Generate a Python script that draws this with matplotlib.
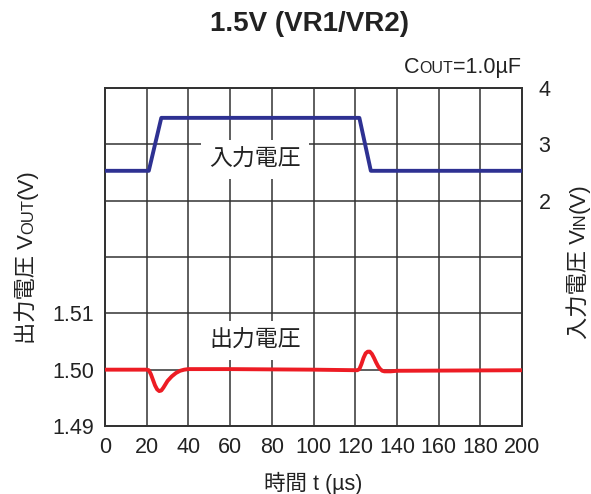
import matplotlib
matplotlib.use("Agg")
import matplotlib.pyplot as plt
from matplotlib.transforms import IdentityTransform

FAM = ['Liberation Sans', 'Noto Sans CJK JP', 'DejaVu Sans']
plt.rcParams['font.family'] = FAM

# ---------------- data ----------------
t_in = [0, 21, 27, 122, 127.5, 200]
v_in = [2.53, 2.53, 3.47, 3.47, 2.53, 2.53]

t_out = [0, 20, 21, 22, 23, 24, 25, 26, 27, 28, 29, 30, 32, 34, 36, 38, 40, 45, 60, 100,
         121, 122, 123, 124, 125, 126, 127, 128, 129, 130, 131, 132, 133, 134, 135, 137, 140, 200]
v_out = [1.5000, 1.5000, 1.4999, 1.4992, 1.4982, 1.4972, 1.4965, 1.4962, 1.4963, 1.4968,
         1.4974, 1.4980, 1.4988, 1.4994, 1.4998, 1.5000, 1.5001, 1.5001, 1.5001, 1.5000,
         1.4999, 1.5001, 1.5010, 1.5021, 1.5029, 1.5032, 1.5032, 1.5028, 1.5021, 1.5013,
         1.5006, 1.5001, 1.4998, 1.4997, 1.4997, 1.4997, 1.4998, 1.4999]

x_ticks = list(range(0, 201, 20))
left_ticklabels = ["1.49", "1.50", "1.51"]
right_ticklabels = ["2", "3", "4"]

title = "1.5V (VR1/VR2)"
in_label = "入力電圧"
out_label = "出力電圧"

W, H = 591, 494
fig = plt.figure(figsize=(W / 100, H / 100), dpi=100)
ax = fig.add_axes([105 / W, 1 - 426 / H, (522 - 105) / W, (426 - 88) / H])
ax2 = ax.twinx()

GRID = '#333333'
TXT = '#222222'
ax.set_xlim(0, 200)
ax.set_ylim(1.49, 1.55)
ax2.set_ylim(-2, 4)
ax.set_xticks(x_ticks)
ax.set_yticks([1.49 + 0.01 * i for i in range(7)])
ax.grid(True, color=GRID, lw=1.1)
ax.set_axisbelow(True)
ax.tick_params(length=0, labelsize=15.5, pad=8, colors=TXT)
ax.set_yticklabels(left_ticklabels + [""] * 4)
ax.set_xticklabels([str(v) for v in x_ticks])
ax2.set_yticks([-2 + i for i in range(7)])
ax2.set_yticklabels([""] * 4 + right_ticklabels)
ax2.tick_params(length=0, labelsize=15.5, pad=12, colors=TXT)
for a in (ax, ax2):
    for s in a.spines.values():
        s.set_color('#333333')
        s.set_linewidth(1.3)

ax.set_zorder(ax2.get_zorder() + 1)
ax.patch.set_visible(False)

# labels with white boxes (cover grid)
ax.text(72, 2.73, in_label, fontsize=16.5, ha='center', va='center', zorder=3,
        transform=ax2.transData, color=TXT,
        bbox=dict(facecolor='white', edgecolor='none', pad=6))
ax.text(72, 1.5052, out_label, fontsize=16.5, ha='center', va='center', zorder=3,
        color=TXT, bbox=dict(facecolor='white', edgecolor='none', pad=6))

ax.plot(t_in, v_in, color='#2e3192', lw=2.8, zorder=5, solid_joinstyle='round',
        transform=ax2.transData)
ax.plot(t_out, v_out, color='#ed1c24', lw=2.8, zorder=5, solid_joinstyle='round')
ax.set_xlim(0, 200)
ax.set_ylim(1.49, 1.55)

fig.text(310 / W, 1 - 24 / H, title, fontsize=20, fontweight='bold', ha='center',
         va='center', color=TXT)

renderer = fig.canvas.get_renderer()


def rich(x, y, pieces, rotation=0, align='center'):
    ws = []
    for s, size in pieces:
        tt = fig.text(0, 0, s, fontsize=size, transform=IdentityTransform())
        ws.append(tt.get_window_extent(renderer).width)
        tt.remove()
    total = sum(ws)
    off = {'center': -total / 2, 'right': -total, 'left': 0}[align]
    dx, dy = (1, 0) if rotation == 0 else (0, 1)
    cur = off
    for (s, size), w in zip(pieces, ws):
        fig.text(x + dx * cur, (H - y) + dy * cur, s, fontsize=size, rotation=rotation,
                 rotation_mode='anchor', ha='left', va='baseline',
                 transform=IdentityTransform(), color=TXT)
        cur += w


rich(521, 73, [("C", 15.5), ("OUT", 11.5), ("=1.0µF", 15.5)], align='right')
rich(33, 257, [("出力電圧 V", 16), ("OUT", 12), ("(V)", 16)], rotation=90)
rich(585, 261, [("入力電圧 V", 16), ("IN", 12), ("(V)", 16)], rotation=90)
fig.text(313 / W, 1 - 483 / H, "時間 t (µs)", fontsize=15.5, ha='center', va='center',
         color=TXT)

fig.savefig("out.png", dpi=100)
